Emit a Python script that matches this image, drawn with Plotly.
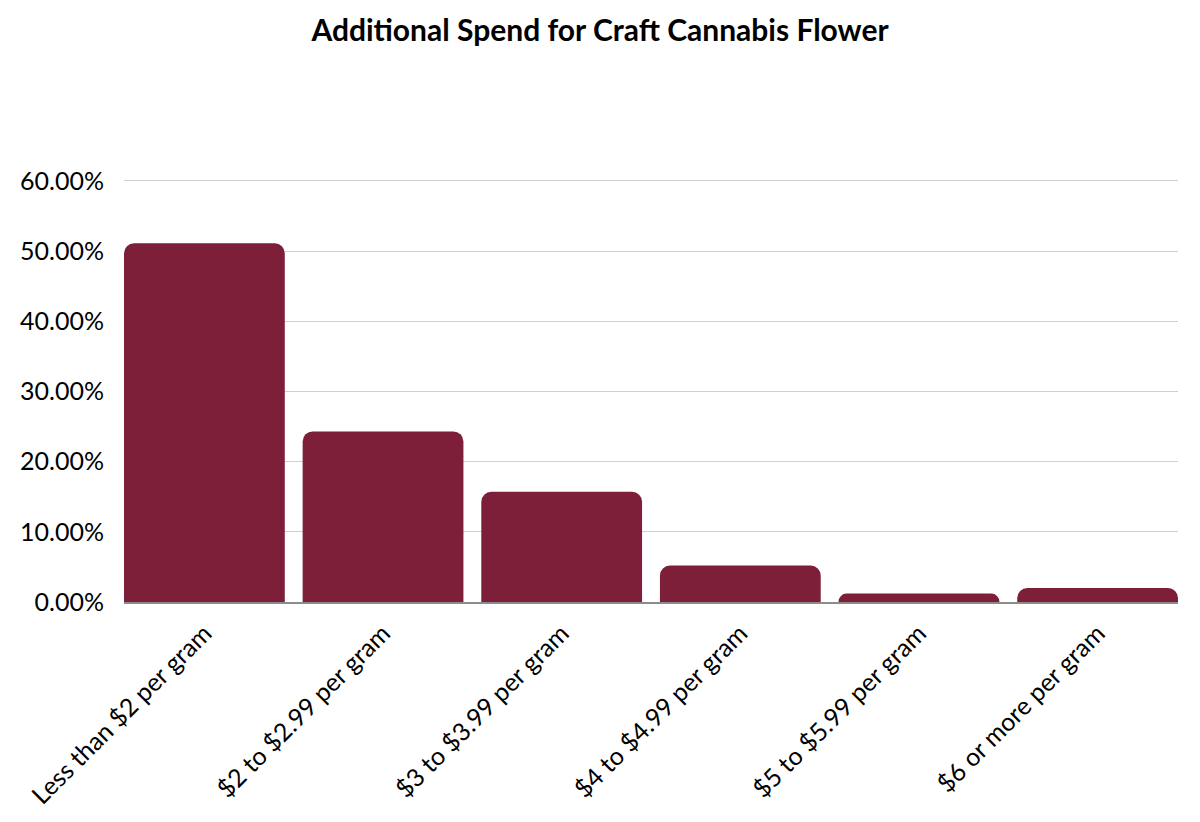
import plotly.graph_objects as go

# survey answers
categories = ["Less than $2 per gram", "$2 to $2.99 per gram", "$3 to $3.99 per gram",
              "$4 to $4.99 per gram", "$5 to $5.99 per gram", "$6 or more per gram"]
shares = [51.1, 24.3, 15.7, 5.2, 1.2, 2.0]
y_ticks = [0, 10, 20, 30, 40, 50, 60]
y_tick_labels = ["{:.2f}%".format(t) for t in y_ticks]

font_name = "Lato"
gap = 0.1
# the page body has an 8px margin, so the figure is drawn 8px smaller
page_off = 8
fig_w, fig_h = 1200 - page_off, 822 - page_off

fig = go.Figure()
fig.add_trace(go.Bar(x=categories, y=shares,
                     marker=dict(color="#7E1F3A", cornerradius=10, line=dict(width=0))))

fig.update_layout(
    width=fig_w, height=fig_h,
    paper_bgcolor="white", plot_bgcolor="white",
    margin=dict(l=124 - page_off, r=22, t=170, b=220),
    bargap=gap,
    showlegend=False,
    font=dict(family=font_name, color="#000000"),
    title=dict(text="<b>Additional Spend for Craft Cannabis Flower</b>",
               x=(600 - page_off) / fig_w, xanchor="center",
               y=1 - (30 - page_off) / fig_h, yanchor="middle",
               xref="container", yref="container",
               font=dict(size=30, family=font_name, color="#000000")),
)
fig.update_xaxes(range=[-0.5 + gap / 2, len(categories) - 0.5 - gap / 2],
                 tickangle=-45, tickfont=dict(size=25), ticklabelstandoff=5,
                 showline=True, linecolor="#8C8C8C", linewidth=1.5,
                 ticks="", showgrid=False)
# a little headroom above 60% so its gridline is still drawn
fig.update_yaxes(range=[0, 60.4], tickvals=y_ticks, ticktext=y_tick_labels,
                 tickfont=dict(size=25), showgrid=True, gridcolor="#CFCFCF",
                 gridwidth=1, zeroline=False, ticks="", ticklabelstandoff=19)

fig.write_html("out.html")
